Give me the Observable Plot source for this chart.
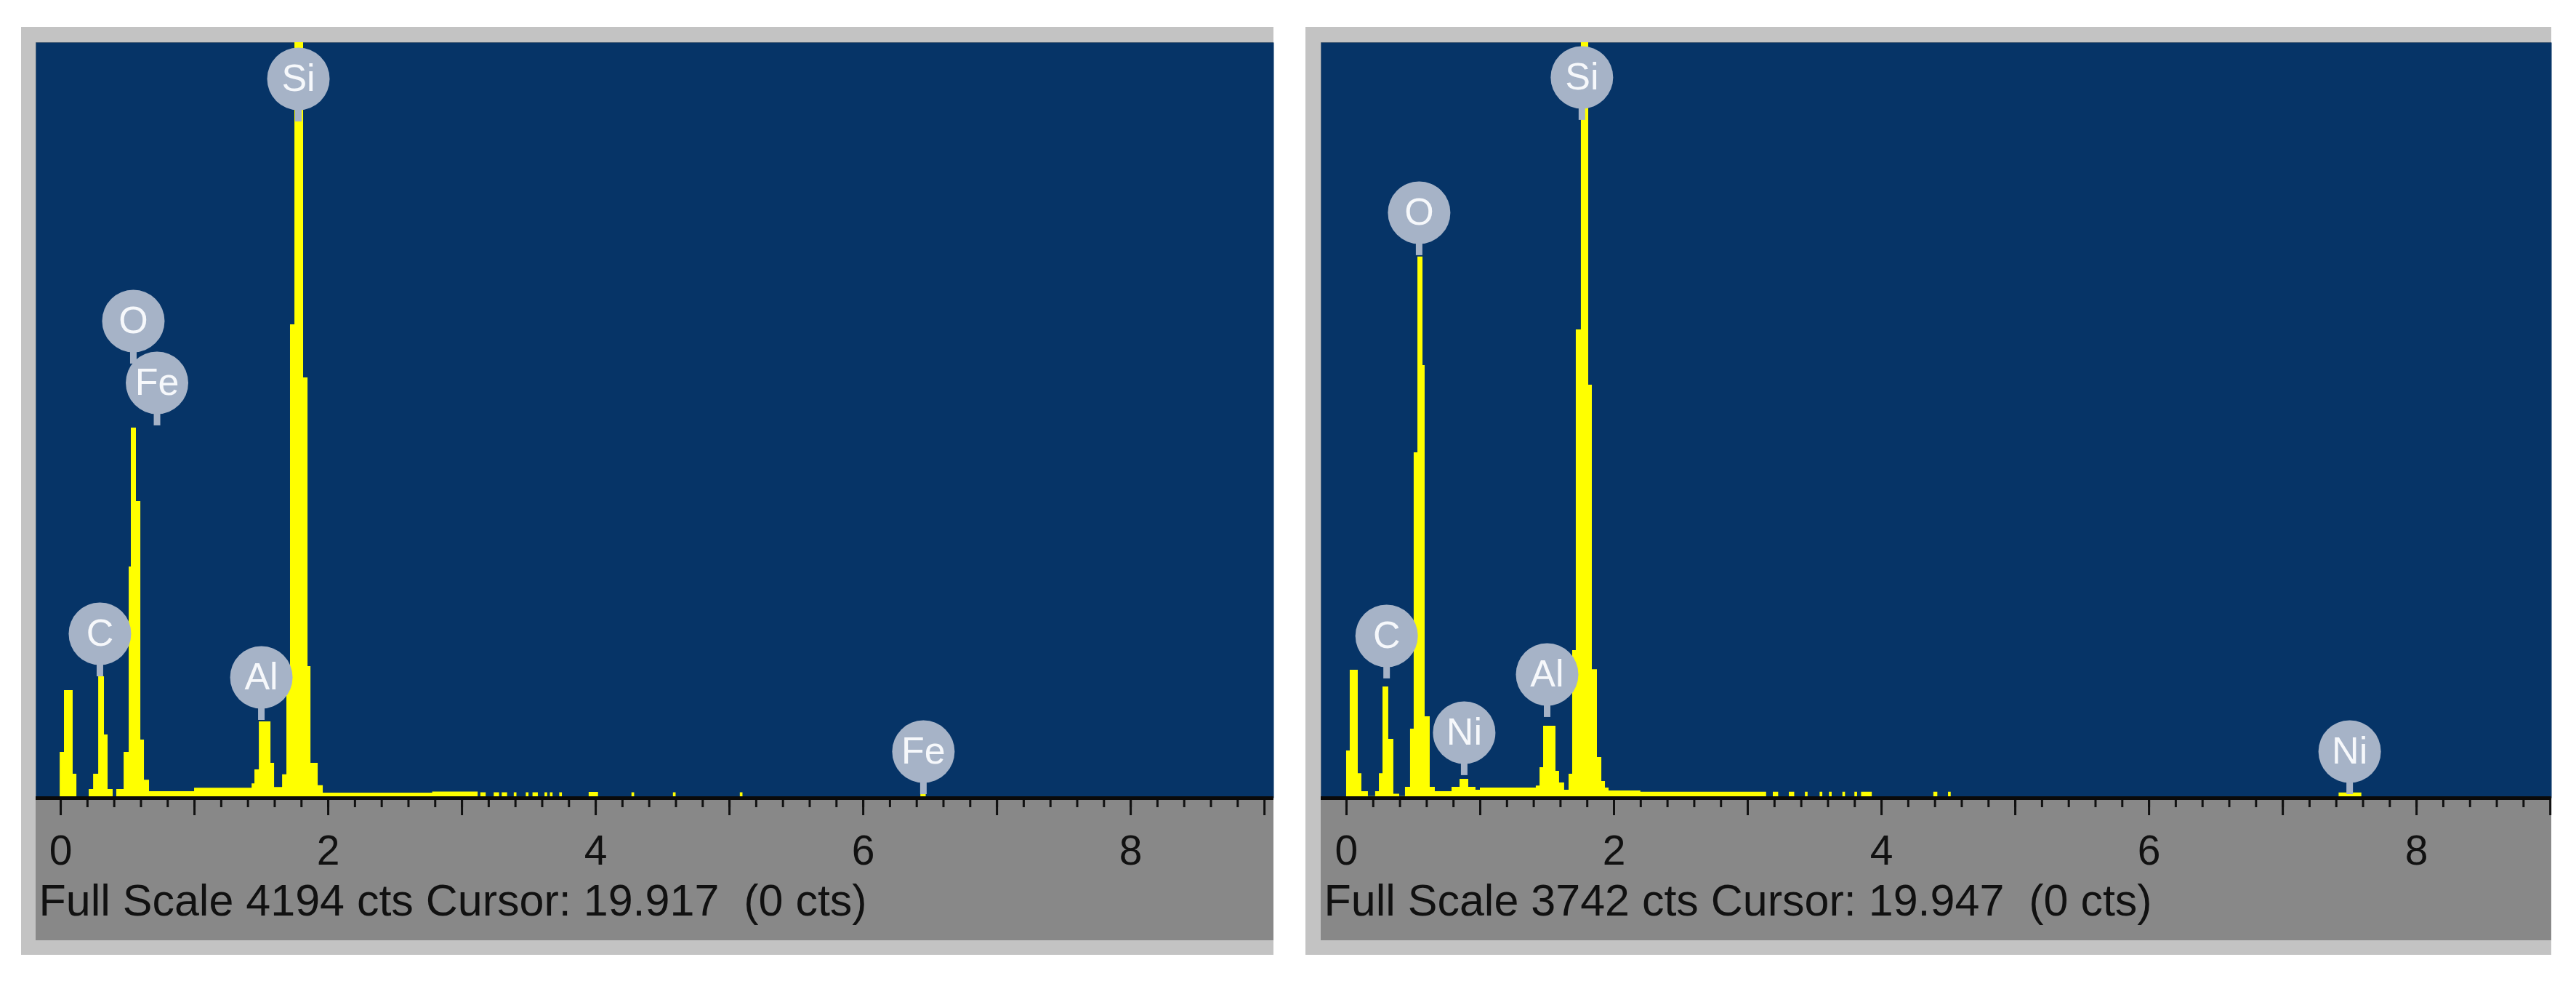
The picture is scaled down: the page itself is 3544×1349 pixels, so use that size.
<!DOCTYPE html>
<html>
<head>
<meta charset="utf-8">
<script src="https://cdn.jsdelivr.net/npm/d3@7"></script>
<script src="https://cdn.jsdelivr.net/npm/@observablehq/plot@0.6"></script>
<style>
  html, body { margin: 0; padding: 0; background: #ffffff; }
  body { width: 3544px; height: 1349px; position: relative; overflow: hidden; font-family: "Liberation Sans", Arial, sans-serif; }
  .panel { position: absolute; background: #c3c3c3; padding: 21px 0 20px 20px; line-height: 0; }
  .panel svg { display: block; }
</style>
</head>
<body>
<div id="left" class="panel" style="left:29px; top:37px;"></div>
<div id="right" class="panel" style="left:1796px; top:37px; padding-left:21px;"></div>
<script>
// ---------- DATA ----------
// Left spectrum (bin left edge in keV, counts)
const leftEnergy = [-0.185, -0.005, 0.027, 0.092, 0.120, 0.212, 0.245, 0.283, 0.326, 0.353, 0.391,
  0.418, 0.473, 0.511, 0.527, 0.565, 0.598, 0.625, 0.663, 1.000,
  1.430, 1.451, 1.484, 1.571, 1.598, 1.658, 1.690, 1.717, 1.750, 1.815, 1.848, 1.870, 1.924, 1.962,
  2.780, 3.120, 3.14, 3.18, 3.24, 3.28, 3.30, 3.34, 3.39, 3.41, 3.48, 3.50, 3.53, 3.57, 3.62, 3.64,
  3.66, 3.68, 3.73, 3.75, 3.95, 4.02, 4.27, 4.29, 4.58, 4.60, 5.08, 5.10, 6.43, 6.47, 9.07];
const leftCounts = [0, 254, 597, 133, 0, 48, 133, 674, 351, 48, 8,
  48, 254, 1284, 2055, 1647, 323, 100, 36, 56,
  80, 157, 424, 194, 60, 130, 700, 2628, 4400, 2333, 731, 194, 70, 28,
  34, 6, 30, 6, 30, 6, 30, 6, 30, 6, 30, 6, 30, 6, 30, 6,
  30, 6, 30, 6, 32, 6, 30, 6, 30, 6, 30, 6, 30, 6, 6];

// Right spectrum
const rightEnergy = [-0.19, 0.000, 0.027, 0.087, 0.114, 0.163, 0.217, 0.245, 0.272, 0.315, 0.353, 0.397,
  0.440, 0.478, 0.505, 0.533, 0.571, 0.587, 0.625, 0.663, 0.788, 0.848, 0.913, 0.967, 1.000,
  1.418, 1.446, 1.473, 1.565, 1.592, 1.630, 1.663, 1.690, 1.717, 1.755, 1.810, 1.837, 1.875, 1.908, 1.935, 1.962,
  2.200, 3.140, 3.19, 3.23, 3.31, 3.35, 3.43, 3.45, 3.54, 3.56, 3.61, 3.63, 3.71, 3.73, 3.80, 3.82,
  3.85, 3.93, 4.39, 4.42, 4.50, 4.52, 7.42, 7.59, 9.01];
const rightCounts = [0, 234, 634, 122, 32, 8, 32, 122, 551, 292, 20, 8,
  54, 342, 1711, 2680, 2143, 403, 54, 32, 54, 94, 54, 40, 50,
  60, 151, 357, 133, 76, 40, 119, 731, 2319, 3900, 2046, 637, 202, 83, 50, 36,
  30, 6, 30, 6, 30, 6, 30, 6, 30, 6, 30, 6, 30, 6, 30, 6,
  30, 6, 30, 6, 30, 6, 26, 6, 6];

// Element labels (line energy keV, count at which the pin points)
const leftLabelText = ["Si", "O", "Fe", "C", "Al", "Fe"];
const leftLabelEnergy = [1.777, 0.543, 0.72, 0.293, 1.50, 6.45];
const leftLabelCount = [3754, 2410, 2067, 674, 432, 20];

const rightLabelText = ["Si", "O", "C", "Ni", "Al", "Ni"];
const rightLabelEnergy = [1.76, 0.543, 0.30, 0.88, 1.50, 7.50];
const rightLabelCount = [3357, 2687, 591, 112, 400, 18];

// Axis ticks
const majorTicks = [0, 1, 2, 3, 4, 5, 6, 7, 8, 9];
const minorTicks = d3.range(0, 45).map(i => +(i * 0.2).toFixed(1));
const tickLabels = [0, 2, 4, 6, 8];

// Scale settings / captions
const leftFullScale = 4194, rightFullScale = 3742;
const leftDomain = [-0.185, 9.07], rightDomain = [-0.19, 9.01];
const leftCaption = "Full Scale 4194 cts Cursor: 19.917\u00a0 (0 cts)";
const rightCaption = "Full Scale 3742 cts Cursor: 19.947\u00a0 (0 cts)";

// ---------- DRAW ----------
const BLUE = "#063467", YELLOW = "#ffff00", BALLOON = "#a6b3c7", DARKGRAY = "#888888";

function panel(energy, counts, labText, labE, labC, fullScale, domain, width, caption) {
  const spec = energy.map((e, i) => ({E: e, c: counts[i]}));
  const labels = labText.map((t, i) => ({t, E: labE[i], c: labC[i]}));
  return Plot.plot({
    width, height: 1235,
    marginTop: 0, marginLeft: 0, marginRight: 0, marginBottom: 196,
    style: {background: DARKGRAY, fontFamily: "'Liberation Sans', Arial, sans-serif", overflow: "visible"},
    x: {domain},
    y: {domain: [0, fullScale], axis: null},
    marks: [
      Plot.frame({fill: BLUE, stroke: "none"}),
      Plot.areaY(spec, {x: "E", y: "c", curve: "step-after", fill: YELLOW, clip: true}),
      Plot.ruleX(minorTicks, {x: d => d, y1: 0, y2: 0, insetBottom: -13, stroke: "#111", strokeWidth: 3}),
      Plot.ruleX(majorTicks, {x: d => d, y1: 0, y2: 0, insetBottom: -24, stroke: "#111", strokeWidth: 3}),
      Plot.ruleY([0], {stroke: "#0a0a0a", strokeWidth: 5}),
      Plot.axisX({ticks: tickLabels, tickSize: 0, tickPadding: 51, fontSize: 57, label: null, color: "#111"}),
      Plot.text([caption], {frameAnchor: "bottom-left", dx: 4, dy: 161, textAnchor: "start", fontSize: 61, fill: "#111"}),
      Plot.ruleX(labels, {x: "E", y1: "c", y2: "c", insetTop: -30, stroke: BALLOON, strokeWidth: 9}),
      Plot.dot(labels, {x: "E", y: "c", dy: -59, r: 43, fill: BALLOON, stroke: "none"}),
      Plot.text(labels, {x: "E", y: "c", dy: -59, text: "t", fill: "#f6f8fb", fontSize: 52})
    ]
  });
}

document.getElementById("left").appendChild(
  panel(leftEnergy, leftCounts, leftLabelText, leftLabelEnergy, leftLabelCount, leftFullScale, leftDomain, 1703, leftCaption));
document.getElementById("right").appendChild(
  panel(rightEnergy, rightCounts, rightLabelText, rightLabelEnergy, rightLabelCount, rightFullScale, rightDomain, 1693, rightCaption));
</script>
</body>
</html>
